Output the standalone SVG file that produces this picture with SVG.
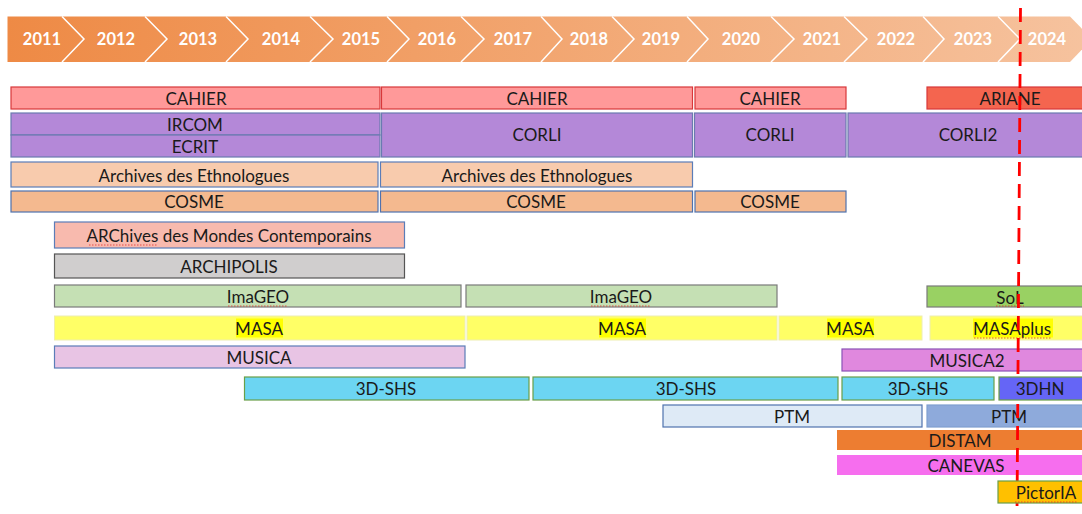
<svg xmlns="http://www.w3.org/2000/svg" width="1082" height="514" viewBox="0 0 1082 514">
<defs>
<linearGradient id="tl" x1="0" y1="0" x2="1" y2="0">
<stop offset="0" stop-color="#EE8A45"/>
<stop offset="0.5" stop-color="#F2A671"/>
<stop offset="1" stop-color="#F6C39F"/>
</linearGradient>
</defs>
<style>
.yr{font-family:Lato,"Liberation Sans",sans-serif;font-weight:bold;font-size:16.5px;fill:#ffffff;text-anchor:middle;dominant-baseline:central}
.sep{fill:none;stroke:#ffffff;stroke-width:1.5}
.lb{font-family:Lato,"Open Sans","Liberation Sans",sans-serif;font-size:17px;fill:#1a1a1a;text-anchor:middle;dominant-baseline:central}
.sq{fill:none;stroke:#e03030;stroke-width:0.8;stroke-dasharray:1.5 1.5}
.cahier{fill:#FF9999;stroke:#D8383A;stroke-width:1.2}
.ariane{fill:#F4654F;stroke:#D8383A;stroke-width:1.2}
.corli{fill:#B488D8;stroke:#6A7BB0;stroke-width:1.2}
.arch{fill:#F8CBAD;stroke:#5B7DB8;stroke-width:1.2}
.cosme{fill:#F4B98F;stroke:#4F72AE;stroke-width:1.2}
.amc{fill:#F8BAAE;stroke:#5B7DB8;stroke-width:1.2}
.archi{fill:#D0CECE;stroke:#555555;stroke-width:1.2}
.imageo{fill:#C5E0B4;stroke:#7a7a7a;stroke-width:1.2}
.sol{fill:#99D163;stroke:#7a7a7a;stroke-width:1.2}
.masa{fill:#FFFF66;stroke:#EEEEB0;stroke-width:1}
.hl{fill:#FFFF00}
.musica{fill:#E8C4E4;stroke:#5B7DB8;stroke-width:1.2}
.musica2{fill:#E088DE;stroke:#8A52B6;stroke-width:1.2}
.shs{fill:#6CD5F2;stroke:#6A9F48;stroke-width:1.2}
.hn{fill:#6565F6;stroke:#6A9F48;stroke-width:1.2}
.ptm1{fill:#DEEAF6;stroke:#4F72AE;stroke-width:1.2}
.ptm2{fill:#8EAADB;stroke:#7F9FCF;stroke-width:1.2}
.distam{fill:#ED7D31}
.canevas{fill:#F66EEE}
.pictoria{fill:#FFC000;stroke:#6A9F48;stroke-width:1.2}
</style>

<g id="timeline">
<polygon points="7.5,16.5 1070,16.5 1092,39 1070,62 7.5,62" fill="url(#tl)"/>
<polyline class="sep" points="62,16.5 84,39 62,62"/>
<polyline class="sep" points="145,16.5 167,39 145,62"/>
<polyline class="sep" points="226,16.5 248,39 226,62"/>
<polyline class="sep" points="310,16.5 333,39 310,62"/>
<polyline class="sep" points="387,16.5 409,39 387,62"/>
<polyline class="sep" points="461,16.5 484,39 461,62"/>
<polyline class="sep" points="541,16.5 562,39 541,62"/>
<polyline class="sep" points="612,16.5 634,39 612,62"/>
<polyline class="sep" points="687,16.5 708,39 687,62"/>
<polyline class="sep" points="771,16.5 794,39 771,62"/>
<polyline class="sep" points="844,16.5 867,39 844,62"/>
<polyline class="sep" points="923,16.5 944,39 923,62"/>
<polyline class="sep" points="998,16.5 1020,39 998,62"/>
<text class="yr" x="42" y="39">2011</text>
<text class="yr" x="116" y="39">2012</text>
<text class="yr" x="198" y="39">2013</text>
<text class="yr" x="281" y="39">2014</text>
<text class="yr" x="361" y="39">2015</text>
<text class="yr" x="437" y="39">2016</text>
<text class="yr" x="513" y="39">2017</text>
<text class="yr" x="589" y="39">2018</text>
<text class="yr" x="661" y="39">2019</text>
<text class="yr" x="741" y="39">2020</text>
<text class="yr" x="822" y="39">2021</text>
<text class="yr" x="896" y="39">2022</text>
<text class="yr" x="973" y="39">2023</text>
<text class="yr" x="1047" y="39">2024</text>
</g>

<g id="cahier1"><rect class="cahier" x="11" y="87" width="369" height="22"/><text class="lb" x="196" y="98">CAHIER</text></g>
<g id="cahier2"><rect class="cahier" x="381.5" y="87" width="311" height="22"/><text class="lb" x="537" y="98">CAHIER</text></g>
<g id="cahier3"><rect class="cahier" x="695" y="87" width="151" height="22"/><text class="lb" x="770" y="98">CAHIER</text></g>
<g id="ariane"><rect class="ariane" x="927" y="87" width="165" height="22"/><text class="lb" x="1010" y="98">ARIANE</text></g>

<g id="ircom"><rect class="corli" x="11" y="113" width="369" height="22"/><text class="lb" x="195" y="124">IRCOM</text></g>
<g id="ecrit"><rect class="corli" x="11" y="135" width="369" height="22"/><text class="lb" x="195" y="146">ECRIT</text></g>
<g id="corli1"><rect class="corli" x="381.5" y="113" width="311" height="44"/><text class="lb" x="537" y="134">CORLI</text></g>
<g id="corli2"><rect class="corli" x="694.5" y="113" width="151.5" height="44"/><text class="lb" x="770" y="134">CORLI</text></g>
<g id="corli3"><rect class="corli" x="848" y="113" width="244" height="44"/><text class="lb" x="968" y="134">CORLI2</text></g>

<g id="ethno1"><rect class="arch" x="11" y="162" width="367" height="25"/><text class="lb" x="194" y="175">Archives des Ethnologues</text></g>
<g id="ethno2"><rect class="arch" x="380.5" y="162" width="312" height="25"/><text class="lb" x="537" y="175">Archives des Ethnologues</text></g>

<g id="cosme1"><rect class="cosme" x="11" y="191" width="367" height="21"/><text class="lb" x="194" y="201">COSME</text></g>
<g id="cosme2"><rect class="cosme" x="380.5" y="191" width="312" height="21"/><text class="lb" x="536" y="201">COSME</text></g>
<g id="cosme3"><rect class="cosme" x="695" y="191" width="151" height="21"/><text class="lb" x="770" y="201">COSME</text></g>

<g id="arcmc"><rect class="amc" x="54.5" y="222" width="350" height="26"/><text class="lb" x="229" y="235">ARChives des Mondes Contemporains</text><path class="sq" d="M89,245 H158"/></g>
<g id="archipolis"><rect class="archi" x="54.5" y="254" width="350" height="24"/><text class="lb" x="229" y="266">ARCHIPOLIS</text></g>

<g id="imageo1"><rect class="imageo" x="54.5" y="285" width="406.5" height="22"/><text class="lb" x="258" y="296">ImaGEO</text><path class="sq" d="M228,306 H288"/></g>
<g id="imageo2"><rect class="imageo" x="466" y="285" width="311" height="22"/><text class="lb" x="621" y="296">ImaGEO</text><path class="sq" d="M591,306 H651"/></g>
<g id="sol"><rect class="sol" x="927" y="286" width="165" height="21"/><text class="lb" x="1010" y="297">SoL</text><path class="sq" d="M996,306 H1024"/></g>

<g id="masa1"><rect class="masa" x="54.5" y="316" width="410.5" height="24"/><rect class="hl" x="236" y="318.5" width="47" height="19"/><text class="lb" x="259" y="328">MASA</text></g>
<g id="masa2"><rect class="masa" x="467" y="316" width="310" height="24"/><rect class="hl" x="599" y="318.5" width="47" height="19"/><text class="lb" x="622" y="328">MASA</text></g>
<g id="masa3"><rect class="masa" x="779" y="316" width="143" height="24"/><rect class="hl" x="827" y="318.5" width="47" height="19"/><text class="lb" x="850" y="328">MASA</text></g>
<g id="masaplus"><rect class="masa" x="930" y="316" width="162" height="24"/><rect class="hl" x="973" y="318.5" width="80" height="19"/><text class="lb" x="1012" y="328">MASAplus</text><path class="sq" d="M974,338 H1051"/></g>

<g id="musica"><rect class="musica" x="54.5" y="346" width="410.5" height="22"/><text class="lb" x="259" y="357">MUSICA</text></g>
<g id="musica2"><rect class="musica2" x="842" y="349" width="250" height="22"/><text class="lb" x="967" y="360">MUSICA2</text></g>

<g id="shs1"><rect class="shs" x="244.5" y="377" width="284.5" height="23"/><text class="lb" x="386" y="388.5">3D-SHS</text></g>
<g id="shs2"><rect class="shs" x="533" y="377" width="305" height="23"/><text class="lb" x="686" y="388.5">3D-SHS</text></g>
<g id="shs3"><rect class="shs" x="842" y="377" width="152" height="23"/><text class="lb" x="918" y="388.5">3D-SHS</text></g>

<g id="ptm1"><rect class="ptm1" x="663" y="405" width="259" height="22"/><text class="lb" x="792" y="416">PTM</text></g>
<g id="ptm2"><rect class="ptm2" x="927" y="405" width="165" height="22"/><text class="lb" x="1009" y="416">PTM</text></g>

<g id="distam"><rect class="distam" x="837" y="430" width="255" height="20"/><text class="lb" x="960" y="440">DISTAM</text></g>
<g id="canevas"><rect class="canevas" x="837" y="455" width="255" height="20"/><text class="lb" x="966" y="465">CANEVAS</text></g>

<g id="connectors">
<line x1="1020.5" y1="8" x2="1017" y2="514" stroke="#FF0000" stroke-width="2.8" stroke-dasharray="14 8"/>
</g>

<g id="hn"><rect class="hn" x="999" y="377" width="93" height="23"/><text class="lb" x="1040" y="388.5">3DHN</text></g>
<g id="pictoria"><rect class="pictoria" x="998" y="481" width="94" height="22"/><text class="lb" x="1046" y="492">PictorIA</text><path class="sq" d="M1015,502 H1077"/></g>
</svg>
